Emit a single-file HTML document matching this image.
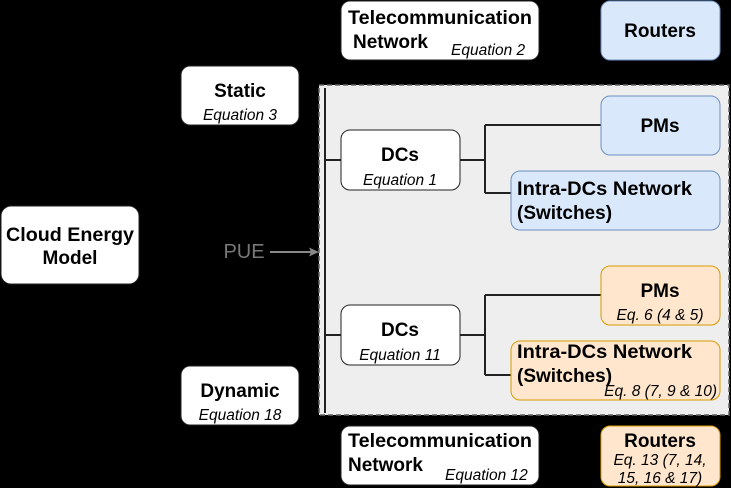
<!DOCTYPE html>
<html><head><style>
body{margin:0;background:#000;}
svg{display:block;font-family:"Liberation Sans",Arial,sans-serif;}
.b{font-weight:bold;font-size:19px;}
.i{font-style:italic;font-size:15.5px;}
</style></head><body>
<svg width="731" height="488" viewBox="0 0 731 488">
<rect x="0" y="0" width="731" height="488" fill="#000"/>
<rect x="319" y="85" width="410" height="330" fill="#eeeeee" stroke="#666" stroke-width="1.5" stroke-dasharray="5,3"/>
<g stroke="#222" stroke-width="2" fill="none">
<path d="M325 88 V413"/>
<path d="M325 160 H341"/><path d="M325 335 H341"/>
<path d="M460 160 H485 M485 125 V193 M485 125 H601 M485 193 H511"/>
<path d="M460 335 H485 M485 295 V375 M485 295 H601 M485 375 H511"/>
</g>
<path d="M270 252 H312" stroke="#888" stroke-width="2"/>
<path d="M319 252 L309 247.5 L311 252 L309 256.5 Z" fill="#888"/>
<text x="244" y="258" text-anchor="middle" font-size="20" fill="#777">PUE</text>
<g stroke="#222" stroke-width="1" fill="#fff">
<rect x="1" y="206" width="138" height="78" rx="10"/>
<rect x="181" y="66" width="118" height="59" rx="9"/>
<rect x="181" y="366" width="118" height="59" rx="9"/>
<rect x="341" y="1" width="198" height="59" rx="9"/>
<rect x="341" y="426" width="198" height="59" rx="9"/>
<rect x="341" y="130" width="119" height="60" rx="9"/>
<rect x="341" y="305" width="119" height="60" rx="9"/>
</g>
<g stroke="#6c8ebf" stroke-width="1" fill="#dae8fc">
<rect x="601" y="1" width="119" height="59" rx="9"/>
<rect x="601" y="96" width="119" height="59" rx="9"/>
<rect x="511" y="171" width="209" height="59" rx="9"/>
</g>
<g stroke="#d79b00" stroke-width="1" fill="#ffe6cc">
<rect x="601" y="266" width="119" height="59" rx="9"/>
<rect x="511" y="341" width="209" height="59" rx="9"/>
<rect x="601" y="426" width="119" height="60" rx="9"/>
</g>
<g fill="#000">
<text class="b" x="6" y="241" textLength="128" lengthAdjust="spacingAndGlyphs">Cloud Energy</text>
<text class="b" x="70" y="264" text-anchor="middle">Model</text>
<text class="b" x="240" y="97" text-anchor="middle">Static</text>
<text class="i" x="240" y="120" text-anchor="middle">Equation 3</text>
<text class="b" x="240" y="397" text-anchor="middle">Dynamic</text>
<text class="i" x="240" y="420" text-anchor="middle">Equation 18</text>
<text class="b" x="348" y="24" textLength="184" lengthAdjust="spacingAndGlyphs">Telecommunication</text>
<text class="b" x="353" y="48">Network</text>
<text class="i" x="451" y="55">Equation 2</text>
<text class="b" x="348" y="447" textLength="184" lengthAdjust="spacingAndGlyphs">Telecommunication</text>
<text class="b" x="348" y="471">Network</text>
<text class="i" x="445" y="480">Equation 12</text>
<text class="b" x="400" y="161" text-anchor="middle">DCs</text>
<text class="i" x="400" y="185" text-anchor="middle">Equation 1</text>
<text class="b" x="400" y="336" text-anchor="middle">DCs</text>
<text class="i" x="400" y="360" text-anchor="middle">Equation 11</text>
<text class="b" x="660" y="37" text-anchor="middle">Routers</text>
<text class="b" x="660" y="132" text-anchor="middle">PMs</text>
<text class="b" x="517" y="195" textLength="175" lengthAdjust="spacingAndGlyphs">Intra-DCs Network</text>
<text class="b" x="517" y="219">(Switches)</text>
<text class="b" x="660" y="297" text-anchor="middle">PMs</text>
<text class="i" x="660" y="320" text-anchor="middle">Eq. 6 (4 &amp; 5)</text>
<text class="b" x="517" y="358" textLength="175" lengthAdjust="spacingAndGlyphs">Intra-DCs Network</text>
<text class="b" x="517" y="382">(Switches)</text>
<text class="i" x="717" y="396" text-anchor="end">Eq. 8 (7, 9 &amp; 10)</text>
<text class="b" x="660" y="447" text-anchor="middle">Routers</text>
<text class="i" x="660" y="465" text-anchor="middle">Eq. 13 (7, 14,</text>
<text class="i" x="660" y="483" text-anchor="middle">15, 16 &amp; 17)</text>
</g>
</svg>
</body></html>
